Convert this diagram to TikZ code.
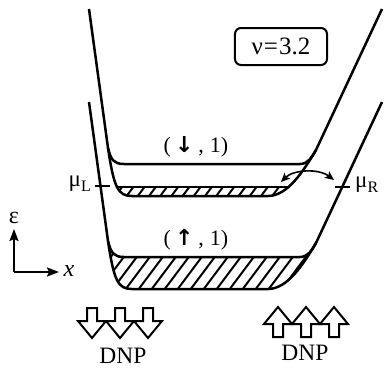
\documentclass[tikz,border=0pt]{standalone}
\usepackage{fontspec}
\setmainfont{Liberation Serif}
\newfontfamily\symfont{DejaVu Sans}
\usetikzlibrary{arrows.meta}
\begin{document}
\begin{tikzpicture}[x=1bp,y=-1bp,line join=round,
  band/.style={line width=2.5bp},
  hatchline/.style={line width=2bp},
  lbl/.style={font=\fontsize{23bp}{26bp}\selectfont, inner sep=0pt},
  dnparrow/.style={draw, line width=2bp, line join=miter, fill=white},
  axis/.style={line width=2bp, -{Stealth[length=12bp,width=9bp,inset=2bp]}},
  swap/.style={line width=1.6bp, {Stealth[length=9bp,width=8bp,inset=2bp]}-{Stealth[length=9bp,width=8bp,inset=2bp]}}]
\useasboundingbox (0,0) rectangle (387,368);

% ---------- upper band (down spin) ----------
\coordinate (B) at (108,148);
\coordinate (A) at (316,150);
\begin{scope}
  \clip (B) .. controls (114,188) and (118,196) .. (132,196) -- (268,196)
        .. controls (288,196) and (304,170) .. (A) -- cycle;
  \begin{scope}
    \clip (0,187) rectangle (387,215);
    \foreach \x in {90,101.2,...,330} \draw[hatchline] (\x,200) -- ({\x+15},180);
  \end{scope}
  \draw[band] (90,187) -- (340,187);
\end{scope}
\draw[band] (89,9) -- (B) .. controls (111,160) and (114,164) .. (124,164) -- (300,164)
      .. controls (308,164) and (312,157) .. (A) -- (382,9);
\draw[band] (B) .. controls (114,188) and (118,196) .. (132,196) -- (268,196)
      .. controls (288,196) and (304,170) .. (A);

% ---------- lower band (up spin) ----------
\begin{scope}[yshift=-93bp]
  \coordinate (B2) at (108,148);
  \coordinate (A2) at (316,150);
  \begin{scope}
    \clip (B2) .. controls (114,188) and (118,196) .. (132,196) -- (268,196)
          .. controls (288,196) and (304,170) .. (A2)
          .. controls (312,157) and (308,164) .. (300,164) -- (124,164)
          .. controls (114,164) and (111,160) .. (B2) -- cycle;
    \foreach \x in {80,93,...,330} \draw[hatchline] (\x,205) -- ({\x+37.5},155);
  \end{scope}
  \draw[band] (89,9) -- (B2) .. controls (111,160) and (114,164) .. (124,164) -- (300,164)
        .. controls (308,164) and (312,157) .. (A2) -- (382,9);
  \draw[band] (B2) .. controls (114,188) and (118,196) .. (132,196) -- (268,196)
        .. controls (288,196) and (304,170) .. (A2);
\end{scope}

% ---------- chemical potentials ----------
\coordinate (tL1) at (95,186);
\coordinate (tL2) at (110,186);
\coordinate (tR1) at (335,187);
\coordinate (tR2) at (350,187);
\draw[band] (tL1) -- (tL2);
\draw[band] (tR1) -- (tR2);
\node[lbl, anchor=east] (muL) at (91,184) {μ\raisebox{-0.4ex}{\fontsize{16bp}{16bp}\selectfont L}};
\node[lbl, anchor=west] (muR) at (355,185) {μ\raisebox{-0.4ex}{\fontsize{16bp}{16bp}\selectfont R}};

% exchange arrow
\coordinate (sw1) at (281,182);
\coordinate (sw2) at (334,180);
\draw[swap] (sw1) .. controls (293,170) and (318,168) .. (sw2);

% ---------- labels ----------
\node[lbl, font=\fontsize{22bp}{26bp}\selectfont] (dn) at (196,147)
  {(\hspace{4bp}{\symfont\bfseries ↓}\hspace{5bp},\hspace{6bp}1)};
\node[lbl, font=\fontsize{22bp}{26bp}\selectfont] (up) at (196,240)
  {(\hspace{4bp}{\symfont\bfseries ↑}\hspace{5bp},\hspace{6bp}1)};
\node[draw, rounded corners=6bp, line width=2bp, minimum width=92bp, minimum height=37bp, lbl,
      font=\fontsize{25bp}{28bp}\selectfont] (nu) at (281,46.5) {ν\hspace{1bp}=\hspace{1bp}3.2};

% ---------- axes ----------
\coordinate (O) at (14,272);
\coordinate (Ey) at (14,229);
\coordinate (Ex) at (59,272);
\draw[axis] (O) -- (Ey);
\draw[axis] (O) -- (Ex);
\node[lbl, font=\fontsize{24bp}{26bp}\selectfont] (eps) at (14,218) {ε};
\node[lbl, font=\fontsize{24bp}{26bp}\selectfont\itshape] (xl) at (69,271) {x};

% ---------- DNP arrows ----------
\foreach \cx in {92,120,148}
  \draw[dnparrow] ({\cx-5},308) -- ({\cx+5},308) -- ({\cx+5},321) -- ({\cx+14},321)
     -- (\cx,338) -- ({\cx-14},321) -- ({\cx-5},321) -- cycle;
\foreach \cx in {278,306,334}
  \draw[dnparrow] ({\cx-5},337) -- ({\cx+5},337) -- ({\cx+5},324) -- ({\cx+14},324)
     -- (\cx,307) -- ({\cx-14},324) -- ({\cx-5},324) -- cycle;
\node[lbl, font=\fontsize{23.5bp}{26bp}\selectfont] (dnpL) at (123,356) {DNP};
\node[lbl, font=\fontsize{23.5bp}{26bp}\selectfont] (dnpR) at (305,353) {DNP};
\end{tikzpicture}
\end{document}
